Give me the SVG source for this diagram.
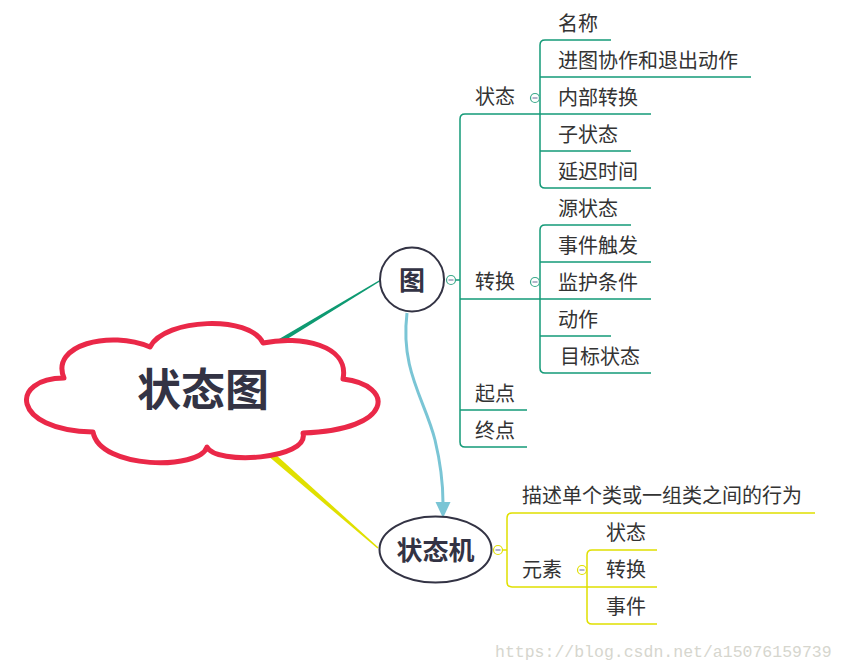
<svg xmlns="http://www.w3.org/2000/svg" width="846" height="671" viewBox="0 0 846 671">
<style>
.t{font-family:"Noto Sans CJK SC","Noto Sans",sans-serif;font-size:20px;fill:#333333}
.b{font-family:"Noto Sans CJK SC","Noto Sans",sans-serif;font-weight:bold;fill:#333344;text-anchor:middle}
.g{fill:none;stroke:#159a78;stroke-width:1.5}
.y{fill:none;stroke:#e0e000;stroke-width:1.5}
.mg{fill:#ffffff;stroke:#3aa88a;stroke-width:1.2}
.my{fill:#ffffff;stroke:#e0e000;stroke-width:1.2}
.mm{stroke:#8080a8;stroke-width:1.2}
</style>
<rect width="846" height="671" fill="#ffffff"/>
<g id="connectors">
<polygon points="381.4,280.6 380.6,279.4 263.7,347.9 266.3,352.1" fill="#0e9a72"/>
<polygon points="378.5,547.5 377.5,548.6 260.5,449.5 264.5,444.5" fill="#e0e000"/>
<path d="M407,313 C400,370 425,400 435,440 C441,465 443,485 443,503" fill="none" stroke="#7ac5d5" stroke-width="3"/>
<polygon points="435.5,502 450.5,502 443,518" fill="#7ac5d5"/>
<path class="g" d="M540,114 H465 Q460,114 460,119 V442 Q460,447 465,447 H527"/>
<path class="g" d="M460,299 H540 M460,410 H527 M455,280 H460"/>
<path class="g" d="M611,40 H545 Q540,40 540,45 V183 Q540,188 545,188 H651"/>
<path class="g" d="M540,77 H751 M540,114 H651 M540,151 H631"/>
<path class="g" d="M631,225 H545 Q540,225 540,230 V368 Q540,373 545,373 H651"/>
<path class="g" d="M540,262 H651 M540,299 H651 M540,336 H611"/>
<path class="y" d="M815,513 H512 Q507,513 507,518 V582 Q507,587 512,587 H587 M502,550 H507"/>
<path class="y" d="M657,550 H592 Q587,550 587,555 V619 Q587,624 592,624 H657 M587,587 H657"/>
</g>
<g id="root">
<path d="M64,378 C50,345 110,330 150,347 C165,318 250,315 263,343 C300,335 350,345 343,379 C395,385 395,430 303,433 C310,460 215,465 207,447 C200,470 100,470 93,432 C10,430 10,378 64,378 Z" fill="#ffffff" stroke="#ea2848" stroke-width="5" stroke-linejoin="round"/>
<text class="b" x="203" y="406" font-size="44">状态图</text>
</g>
<g id="node-tu">
<circle cx="412" cy="279.5" r="32" fill="#ffffff" stroke="#333344" stroke-width="2"/>
<text class="b" x="412" y="290" font-size="26">图</text>
<circle class="mg" cx="451" cy="280" r="4.5"/><line class="mm" x1="448.5" y1="280" x2="453.5" y2="280"/>
</g>
<g id="node-zhuangtai">
<text class="t" x="475" y="104">状态</text>
<circle class="mg" cx="535" cy="98" r="4.5"/><line class="mm" x1="532.5" y1="98" x2="537.5" y2="98"/>
</g>
<g id="n-mingcheng"><text class="t" x="558" y="31">名称</text></g>
<g id="n-jintu"><text class="t" x="558" y="68">进图协作和退出动作</text></g>
<g id="n-neibu"><text class="t" x="558" y="105">内部转换</text></g>
<g id="n-zizhuangtai"><text class="t" x="558" y="142">子状态</text></g>
<g id="n-yanchi"><text class="t" x="558" y="179">延迟时间</text></g>
<g id="node-zhuanhuan">
<text class="t" x="475" y="289">转换</text>
<circle class="mg" cx="535" cy="282" r="4.5"/><line class="mm" x1="532.5" y1="282" x2="537.5" y2="282"/>
</g>
<g id="n-yuan"><text class="t" x="558" y="216">源状态</text></g>
<g id="n-shijian"><text class="t" x="558" y="253">事件触发</text></g>
<g id="n-jianhu"><text class="t" x="558" y="290">监护条件</text></g>
<g id="n-dongzuo"><text class="t" x="558" y="327">动作</text></g>
<g id="n-mubiao"><text class="t" x="560" y="364">目标状态</text></g>
<g id="n-qidian"><text class="t" x="475" y="401">起点</text></g>
<g id="n-zhongdian"><text class="t" x="475" y="438">终点</text></g>
<g id="node-zhuangtaiji">
<ellipse cx="435.5" cy="549.5" rx="56" ry="33" fill="#ffffff" stroke="#333344" stroke-width="2"/>
<text class="b" x="435.5" y="560" font-size="26">状态机</text>
<circle class="my" cx="498" cy="550" r="4.5"/><line class="mm" x1="495.5" y1="550" x2="500.5" y2="550"/>
</g>
<g id="n-miaoshu"><text class="t" x="522" y="503">描述单个类或一组类之间的行为</text></g>
<g id="node-yuansu">
<text class="t" x="522" y="577">元素</text>
<circle class="my" cx="582" cy="570" r="4.5"/><line class="mm" x1="579.5" y1="570" x2="584.5" y2="570"/>
</g>
<g id="n-zt2"><text class="t" x="606" y="540">状态</text></g>
<g id="n-zh2"><text class="t" x="606" y="577">转换</text></g>
<g id="n-sj2"><text class="t" x="606" y="614">事件</text></g>
<text x="495" y="657" font-family="Liberation Mono, monospace" font-size="16.5" fill="#d6d6ce">https://blog.csdn.net/a15076159739</text>
</svg>
